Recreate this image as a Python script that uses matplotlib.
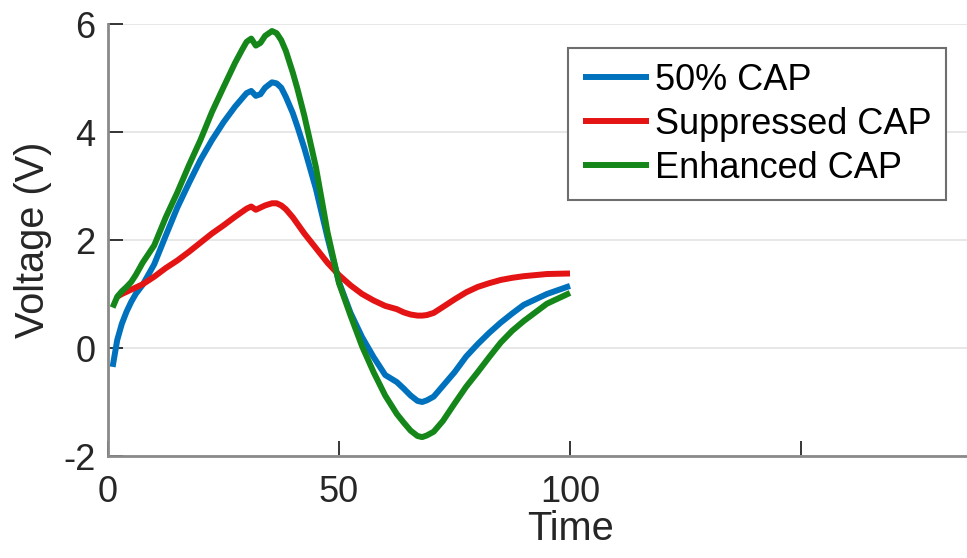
import numpy as np
import matplotlib

matplotlib.use("Agg")
import matplotlib.pyplot as plt

# Courbes CAP (tension en V) en fonction du temps
time = [1, 2, 3, 4, 5, 6, 7.5, 10, 12.5, 15, 17.5, 20, 22.5, 25, 27.5,
        29, 30, 31, 32, 33, 34, 35.5, 36.5, 37.5, 38.5, 40, 41, 42.5, 45,
        47.5, 50, 52.5, 55, 57.5, 60, 62.5, 64, 65.5, 67, 68, 69, 70.5,
        72.5, 75, 77.5, 80, 82.5, 85, 87.5, 90, 95, 100]

cap_50 = [-0.35, 0.15, 0.45, 0.67, 0.85, 1.0, 1.17, 1.55, 2.08, 2.6, 3.05,
          3.48, 3.85, 4.18, 4.47, 4.62, 4.72, 4.76, 4.67, 4.7, 4.82, 4.92,
          4.9, 4.82, 4.65, 4.35, 4.1, 3.7, 2.95, 2.05, 1.22, 0.65, 0.2,
          -0.17, -0.5, -0.63, -0.75, -0.88, -0.98, -1.0, -0.97, -0.9, -0.7,
          -0.45, -0.16, 0.07, 0.28, 0.47, 0.64, 0.8, 1.0, 1.15]

cap_enhanced = [0.75, 0.95, 1.05, 1.13, 1.22, 1.35, 1.58, 1.9, 2.42, 2.88,
                3.38, 3.85, 4.37, 4.83, 5.28, 5.52, 5.67, 5.73, 5.6, 5.65,
                5.78, 5.87, 5.83, 5.7, 5.5, 5.1, 4.8, 4.3, 3.35, 2.15, 1.2,
                0.6, 0.03, -0.45, -0.88, -1.22, -1.38, -1.53, -1.63, -1.65,
                -1.62, -1.55, -1.35, -1.03, -0.72, -0.45, -0.17, 0.1, 0.32,
                0.5, 0.82, 1.02]

# la courbe supprimée démarre un peu plus tard
time_supp = time[1:]
cap_supp = [0.95, 1.0, 1.04, 1.08, 1.12, 1.18, 1.32, 1.48, 1.62, 1.78, 1.95,
            2.12, 2.27, 2.43, 2.52, 2.58, 2.62, 2.56, 2.6, 2.64, 2.68, 2.68,
            2.64, 2.57, 2.42, 2.3, 2.12, 1.85, 1.58, 1.35, 1.16, 1.0, 0.88,
            0.78, 0.72, 0.66, 0.62, 0.6, 0.6, 0.61, 0.65, 0.76, 0.9, 1.03,
            1.13, 1.2, 1.26, 1.3, 1.33, 1.37, 1.38]

x_ticks = [0, 50, 100, 150]
x_tick_labels = ['0', '50', '100', '']
y_ticks = [-2, 0, 2, 4, 6]

plt.rcParams['font.family'] = ['Liberation Sans', 'DejaVu Sans']
plt.rcParams['axes.unicode_minus'] = False
texte = '#262626'

fig = plt.figure(figsize=(9.67, 5.58), dpi=100)
fig.patch.set_facecolor('white')
ax = fig.add_axes([108 / 967, 1 - 456 / 558, 924 / 967, 432 / 558])

lw = 4.3
style = dict(linewidth=lw, solid_joinstyle='round', solid_capstyle='butt')
ax.plot(time, cap_50, color='#0072BD', label='50% CAP', **style)
ax.plot(time_supp, cap_supp, color='#E41414', label='Suppressed CAP', **style)
ax.plot(time, cap_enhanced, color='#15871A', label='Enhanced CAP', **style)

ax.set_xlim(0, 200)
ax.set_ylim(-2, 6)
ax.set_xticks(x_ticks)
ax.set_xticklabels(x_tick_labels)
ax.set_yticks(y_ticks)

ax.grid(True, axis='y', color='#e3e3e3', linewidth=1.2)
ax.set_axisbelow(True)

for cote in ['top', 'right']:
    ax.spines[cote].set_visible(False)
for cote in ['left', 'bottom']:
    ax.spines[cote].set_color('#8a8a8a')
    ax.spines[cote].set_linewidth(2)

ax.tick_params(direction='in', length=11, width=1.3, colors='#262626',
               labelsize=26, labelcolor=texte)
ax.tick_params(axis='x', pad=14)
ax.tick_params(axis='y', pad=9)

ax.set_xlabel('Time', fontsize=28.6, color=texte, labelpad=0)
ax.set_ylabel('Voltage (V)', fontsize=28.6, color=texte, labelpad=8)

leg = ax.legend(loc='upper left', bbox_to_anchor=(0.498, 0.944), borderaxespad=0,
                fontsize=26, frameon=True, fancybox=False, framealpha=1,
                handlelength=1.85, handletextpad=0.15, borderpad=0.4,
                labelspacing=0.25)
leg.get_frame().set_edgecolor('#6e6e6e')
leg.get_frame().set_linewidth(1.5)
for t in leg.get_texts():
    t.set_color('black')

fig.savefig('out.png', dpi=100)
